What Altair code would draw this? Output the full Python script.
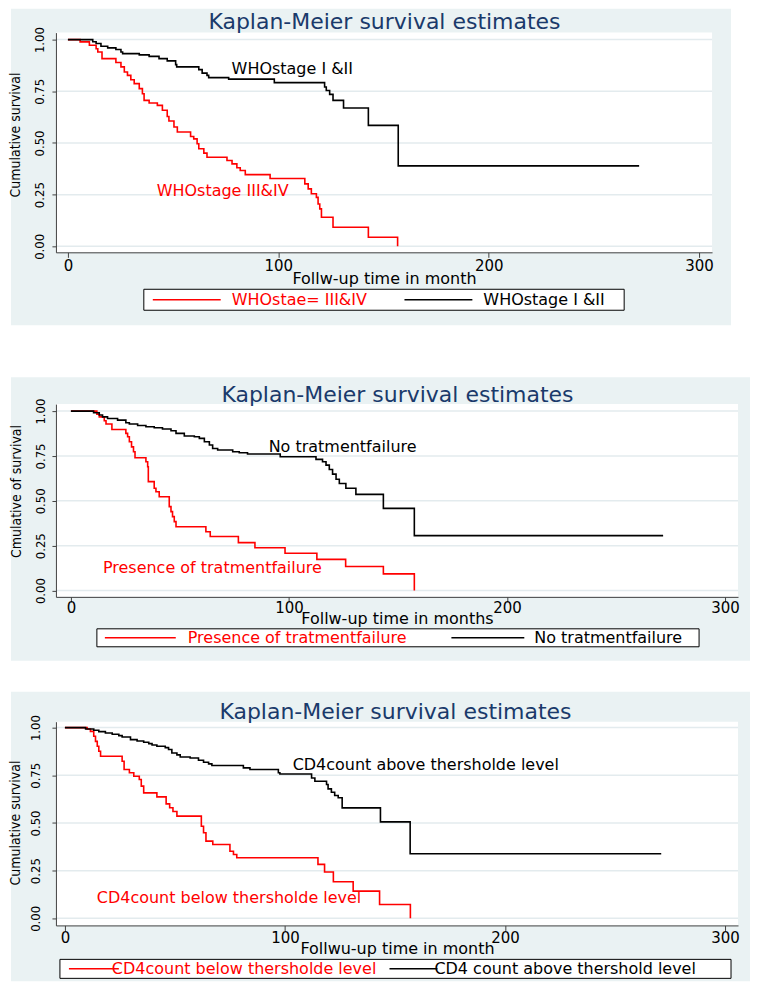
import altair as alt
import pandas as pd

# ---------------- data ----------------
x_ticks = [0, 100, 200, 300]
y_ticks = [0.0, 0.25, 0.5, 0.75, 1.0]

# Panel 1 : WHO stage
who34_t = [0, 5.8, 10.2, 13.4, 14.2, 16.2, 22.8, 25.2, 26.8, 28.3, 29.9, 31.5, 33.9, 35.4, 36.2,
           38.6, 42.5, 44.9, 47.2, 48.0, 50.4, 52.0, 58.3, 59.8, 61.4, 62.2, 64.6, 66.1, 75.6,
           78.0, 80.3, 81.9, 84.3, 96.1, 112.6, 114.2, 115.7, 118.1, 118.9, 119.7, 120.5, 126.0,
           142.8, 156.7]
who34_s = [1.0, 0.989, 0.973, 0.956, 0.940, 0.908, 0.889, 0.868, 0.843, 0.827, 0.806, 0.787, 0.763,
           0.738, 0.706, 0.693, 0.682, 0.658, 0.628, 0.606, 0.577, 0.553, 0.531, 0.520, 0.496, 0.472,
           0.451, 0.431, 0.415, 0.399, 0.380, 0.367, 0.347, 0.328, 0.302, 0.278, 0.254, 0.237, 0.205,
           0.181, 0.141, 0.092, 0.044, 0.0]
who12_t = [0, 11.8, 13.4, 15.7, 18.9, 22.8, 25.2, 26.0, 33.9, 38.6, 43.3, 47.2, 51.2, 51.7, 62.2,
           63.8, 66.1, 66.9, 76.4, 98.1, 122.0, 122.8, 124.4, 126.0, 131.0, 142.8, 157.0, 271.5]
who12_s = [1.0, 0.990, 0.981, 0.968, 0.960, 0.952, 0.940, 0.932, 0.926, 0.919, 0.908, 0.897, 0.879,
           0.868, 0.855, 0.838, 0.827, 0.816, 0.809, 0.792, 0.771, 0.754, 0.735, 0.706, 0.669, 0.585,
           0.389, 0.389]

# Panel 2 : treatment failure
tfy_t = [0, 11.9, 13.0, 15.3, 16.1, 18.8, 25.2, 26.0, 26.8, 27.8, 28.7, 29.4, 34.4, 35.2, 35.5,
         38.2, 39.0, 40.5, 45.1, 45.9, 46.6, 47.4, 48.2, 61.9, 63.9, 76.8, 84.4, 98.2, 112.8,
         126.0, 143.3, 157.5]
tfy_s = [1.0, 0.983, 0.968, 0.946, 0.928, 0.898, 0.876, 0.857, 0.829, 0.801, 0.774, 0.740, 0.718,
         0.690, 0.607, 0.570, 0.551, 0.523, 0.468, 0.440, 0.412, 0.384, 0.356, 0.328, 0.301, 0.267,
         0.239, 0.208, 0.174, 0.134, 0.093, 0.0]
tfn_t = [0, 10.4, 13.0, 14.5, 16.8, 21.4, 25.2, 26.8, 30.6, 34.4, 38.2, 42.0, 45.9, 48.2, 52.0,
         56.6, 58.9, 61.2, 63.5, 65.0, 67.3, 74.2, 77.2, 81.0, 96.0, 112.4, 115.4, 117.0, 118.5,
         120.0, 121.6, 123.1, 126.1, 130.7, 143.3, 157.5, 271.6]
tfn_s = [1.0, 0.991, 0.978, 0.968, 0.959, 0.950, 0.935, 0.928, 0.920, 0.913, 0.907, 0.900, 0.891,
         0.876, 0.861, 0.857, 0.848, 0.829, 0.811, 0.792, 0.783, 0.774, 0.768, 0.761, 0.746, 0.731,
         0.718, 0.699, 0.675, 0.649, 0.620, 0.597, 0.570, 0.536, 0.458, 0.306, 0.306]

# Panel 3 : CD4 count
cd4lo_t = [0, 10.1, 11.6, 13.1, 13.9, 14.7, 15.4, 16.2, 26.0, 26.9, 29.3, 31.3, 33.8, 34.7, 35.8,
           41.8, 46.0, 47.6, 49.1, 50.9, 62.0, 63.0, 64.1, 67.2, 75.0, 76.6, 78.1, 115.0, 118.0,
           122.0, 131.0, 143.0, 157.0]
cd4lo_s = [1.0, 0.993, 0.980, 0.955, 0.928, 0.902, 0.876, 0.850, 0.824, 0.780, 0.763, 0.745, 0.728,
           0.693, 0.658, 0.637, 0.600, 0.580, 0.560, 0.536, 0.483, 0.449, 0.405, 0.387, 0.352, 0.335,
           0.318, 0.283, 0.243, 0.192, 0.143, 0.073, 0.0]
cd4hi_t = [0, 9.4, 13.1, 15.4, 18.4, 21.5, 24.5, 26.0, 29.8, 32.8, 35.8, 38.1, 39.6, 41.8, 45.6,
           47.1, 48.6, 50.9, 52.4, 56.9, 60.7, 63.0, 65.3, 66.8, 81.1, 84.1, 97.0, 97.7, 112.1,
           113.6, 118.9, 119.6, 121.1, 122.6, 124.2, 126.0, 143.4, 156.9, 271.0]
cd4hi_s = [1.0, 0.993, 0.986, 0.979, 0.972, 0.965, 0.958, 0.951, 0.937, 0.930, 0.923, 0.916, 0.909,
           0.902, 0.895, 0.885, 0.867, 0.857, 0.846, 0.841, 0.829, 0.818, 0.810, 0.801, 0.789, 0.780,
           0.763, 0.757, 0.736, 0.719, 0.702, 0.679, 0.661, 0.644, 0.632, 0.579, 0.506, 0.339, 0.339]

# ---------------- style ----------------
RED = "#ff0000"
BLACK = "#000000"
BG = "#eaf2f3"
GRID = "#e3ebee"
NAVY = "#1a3a6b"
AX = "#404040"
FONT = "DejaVu Sans"
NARROW = "Liberation Sans Narrow, DejaVu Sans Condensed, Liberation Sans, sans-serif"
TITLE = "Kaplan-Meier survival estimates"
TXT = 16

one = pd.DataFrame({"k": [0]})


def box(x1, x2, y1, y2, **kw):
    return alt.Chart(one).mark_rect(**kw).encode(
        x=alt.value(x1), x2=alt.value(x2), y=alt.value(y1), y2=alt.value(y2))


def hline(x1, x2, y, color):
    return alt.Chart(one).mark_rule(color=color, strokeWidth=1.5).encode(
        x=alt.value(x1), x2=alt.value(x2), y=alt.value(y))


def label(text, x, y, color, size=TXT, align="left"):
    return alt.Chart(one).mark_text(text=text, font=FONT, fontSize=size, color=color,
                                    align=align, baseline="middle").encode(
        x=alt.value(x), y=alt.value(y))


def panel(red_t, red_s, blk_t, blk_s, cfg):
    W, H = cfg["W"], cfg["H"]
    xs = alt.Scale(domain=cfg["xdom"], nice=False, zero=False)
    ys = alt.Scale(domain=cfg["ydom"], nice=False, zero=False)

    def xaxis():
        return alt.Axis(values=x_ticks, title=cfg["xtitle"], grid=False, zindex=1,
                        domainColor=AX, tickColor=AX, tickSize=5, labelFont=FONT,
                        labelFontSize=15, labelColor="black", labelBaseline="middle",
                        labelPadding=cfg["xlp"], labelFlush=False, labelOverlap=False,
                        titleFont=FONT, titleFontSize=16, titleFontWeight="normal",
                        titleColor="black", titleBaseline="middle", titleY=cfg["xty"])

    def yaxis():
        return alt.Axis(values=y_ticks, format=".2f", title=cfg["ytitle"], grid=False, zindex=1,
                        domainColor=AX, tickColor=AX, tickSize=4, labelFont=NARROW,
                        labelFontSize=13, labelColor="black", labelAngle=270,
                        labelAlign="center", labelBaseline="middle", labelPadding=cfg["ylp"],
                        labelOverlap=False, titleFont=NARROW, titleFontSize=14,
                        titleFontWeight="normal", titleColor="black", titleAngle=270,
                        titleAlign="center", titleBaseline="middle", titleX=cfg["ytx"],
                        titleY=cfg["yty"])

    curves = pd.DataFrame({
        "t": red_t + blk_t,
        "s": red_s + blk_s,
        "g": ["a"] * len(red_t) + ["b"] * len(blk_t),
        "c": [RED] * len(red_t) + [BLACK] * len(blk_t),
    })
    notes = pd.DataFrame({
        "t": [cfg["notes"][0][1], cfg["notes"][1][1]],
        "s": [cfg["notes"][0][2], cfg["notes"][1][2]],
        "label": [cfg["notes"][0][0], cfg["notes"][1][0]],
        "c": [BLACK, RED],
    })

    ext = box(-45, cfg["bgR"], cfg["bgT"], cfg["extB"], fill="white")
    bg = box(-45, cfg["bgR"], cfg["bgT"], cfg["bgB"], fill=BG)
    white = box(0, W, 0, H, fill="white")
    grid = alt.Chart(pd.DataFrame({"g": y_ticks})).mark_rule(color=GRID, strokeWidth=1.5).encode(
        y=alt.Y("g:Q", scale=ys, axis=yaxis()))
    lines = alt.Chart(curves).mark_line(interpolate="step-after", strokeWidth=1.6).encode(
        x=alt.X("t:Q", scale=xs, axis=xaxis()),
        y=alt.Y("s:Q", scale=ys, axis=yaxis()),
        color=alt.Color("c:N", scale=None),
        detail="g:N",
    )
    note_layer = alt.Chart(notes).mark_text(align="left", baseline="middle", font=FONT,
                                            fontSize=TXT).encode(
        x=alt.X("t:Q", scale=xs, axis=xaxis()),
        y=alt.Y("s:Q", scale=ys, axis=yaxis()),
        text="label:N",
        color=alt.Color("c:N", scale=None),
    )
    title = label(TITLE, cfg["title"][0], cfg["title"][1], NAVY, size=22, align="center")
    lg = cfg["legend"]
    lbox = box(lg["x1"], lg["x2"], lg["y1"], lg["y2"], fill="white", stroke="black",
               strokeWidth=1)
    ly = (lg["y1"] + lg["y2"]) / 2
    r1 = hline(lg["r1"][0], lg["r1"][1], ly, RED)
    r2 = hline(lg["r2"][0], lg["r2"][1], ly, BLACK)
    t1 = label(lg["t1"], lg["tx1"], ly, RED)
    t2 = label(lg["t2"], lg["tx2"], ly, BLACK)
    return alt.layer(ext, bg, white, grid, lines, note_layer, title, lbox, r1, r2, t1, t2
                     ).properties(width=W, height=H)


cfg1 = dict(W=657, H=220, xdom=[-5.70, 306.16], ydom=[-0.029, 1.0338],
            bgR=676, bgT=-24, bgB=293, extB=345,
            xtitle="Follw-up time in month", xlp=8, xty=26,
            ytitle="Cumulative survival", ylp=12, ytx=-40.5, yty=102,
            title=(329, -11),
            notes=[("WHOstage I &II", 77.8, 0.86), ("WHOstage III&IV", 42.2, 0.27)],
            legend=dict(x1=88, x2=569, y1=257, y2=278, r1=(97, 165), tx1=176,
                        t1="WHOstae= III&IV", r2=(349, 417), tx2=428, t2="WHOstage I &II"))

cfg2 = dict(W=683, H=193, xdom=[-6.87, 305.95], ydom=[-0.035, 1.039],
            bgR=695, bgT=-27, bgB=257, extB=288,
            xtitle="Follw-up  time in months", xlp=6, xty=22,
            ytitle="Cmulative of survival", ylp=11.5, ytx=-39.5, yty=87,
            title=(342, -9),
            notes=[("No  tratmentfailure", 90.7, 0.80), ("Presence of tratmentfailure", 14.7, 0.126)],
            legend=dict(x1=41, x2=644, y1=225, y2=243, r1=(49, 120), tx1=132,
                        t1="Presence of tratmentfailure", r2=(396, 469), tx2=479,
                        t2="No tratmentfailure"))

cfg3 = dict(W=683, H=204, xdom=[-4.08, 305.9], ydom=[-0.037, 1.031],
            bgR=695, bgT=-30, bgB=260, extB=260,
            xtitle="Follwu-up time in month", xlp=7, xty=23,
            ytitle="Cumulative survival", ylp=16.5, ytx=-40.5, yty=101,
            title=(340, -10),
            notes=[("CD4count above thersholde level", 103.5, 0.806),
                   ("CD4count below thersholde level", 14.5, 0.105)],
            legend=dict(x1=4, x2=676, y1=238, y2=257, r1=(13, 63), tx1=56,
                        t1="CD4count below thersholde level", r2=(334, 382), tx2=379,
                        t2="CD4 count  above thershold level"))

p1 = panel(who34_t, who34_s, who12_t, who12_s, cfg1)
p2 = panel(tfy_t, tfy_s, tfn_t, tfn_s, cfg2)
p3 = panel(cd4lo_t, cd4lo_s, cd4hi_t, cd4hi_s, cfg3)

chart = alt.vconcat(p1, p2, p3, spacing=0).properties(
    padding=0, background="white"
).configure_view(stroke=None)

chart.save("out.html", embed_options={"renderer": "svg", "actions": False})
